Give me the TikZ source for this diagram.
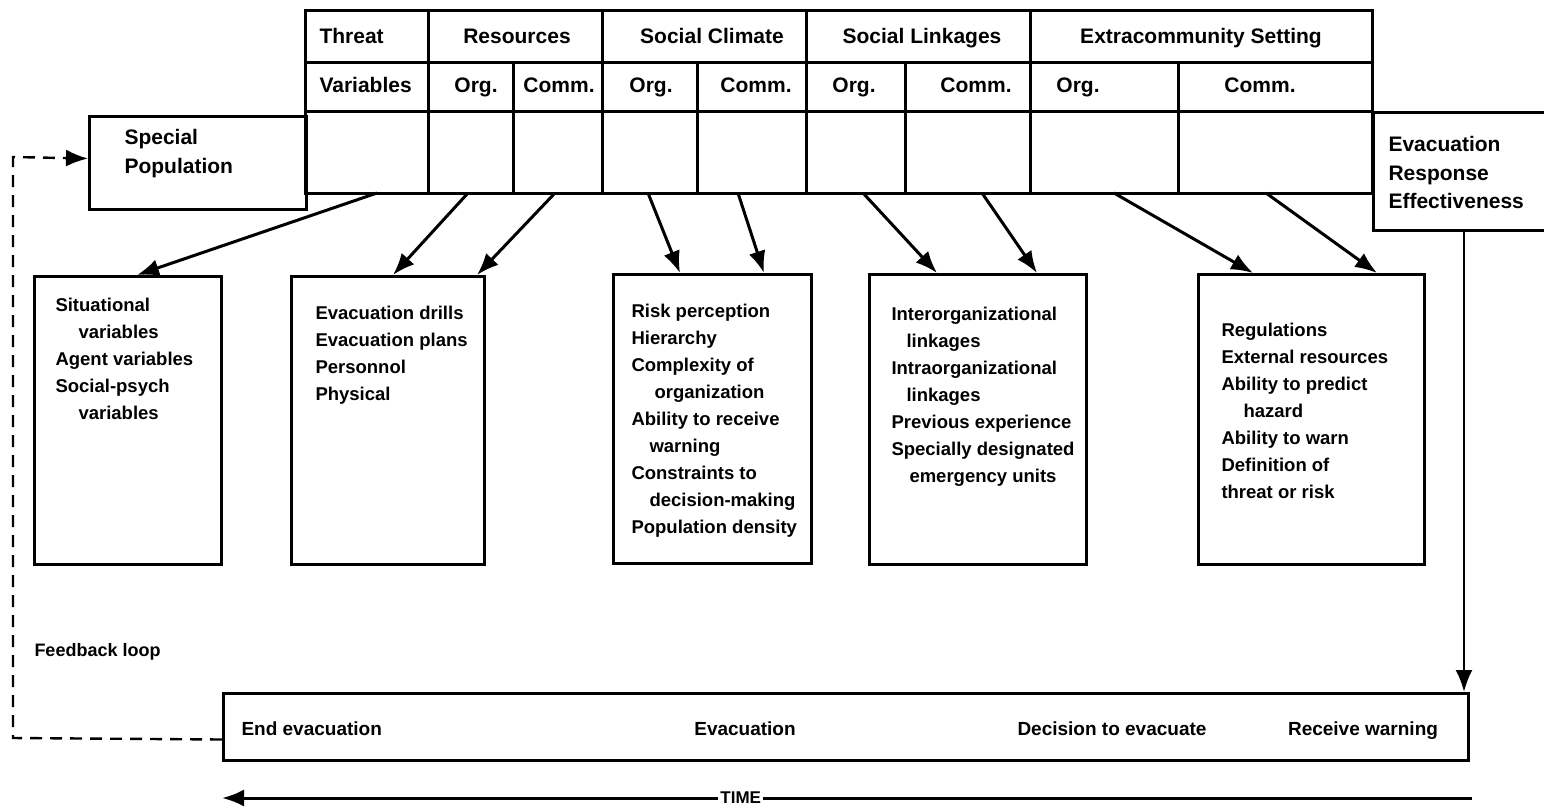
\documentclass[tikz,border=0pt]{standalone}
\usepackage{fontspec}
\setmainfont{Liberation Sans}
\usetikzlibrary{arrows.meta,calc}
\begin{document}
\begin{tikzpicture}[x=1pt,y=-1pt,
  line width=3pt,
  hdr/.style={font=\fontsize{21}{28.5}\selectfont\bfseries, inner sep=0pt},
  body/.style={font=\fontsize{18.5}{26.9}\selectfont\bfseries, inner sep=0pt, align=left, anchor=north west},
  tlab/.style={font=\fontsize{19}{24}\selectfont\bfseries, inner sep=0pt, anchor=base},
  box/.style={draw, line width=3pt, anchor=north west, inner sep=0pt},
  arr/.style={-{Latex[length=22pt,width=17pt]}, line width=3pt},
  fb/.style={-{Latex[length=22pt,width=17pt]}, line width=2.4pt, dash pattern=on 12pt off 8pt},
]
\useasboundingbox (0,0) rectangle (1544,807);

% ---- table ----
\draw (305,10) rectangle (1372,193);
\draw (305,62) -- (1372,62);
\draw (305,111) -- (1372,111);
\foreach \x in {428,602,806,1030} \draw (\x,10) -- (\x,193);
\foreach \x in {513,697,905,1178} \draw (\x,62) -- (\x,193);

\node[hdr, anchor=base west] (hthreat) at (318,43) {Threat};
\node[hdr, anchor=base west] (hvar) at (318,92) {Variables};
\node[hdr, anchor=base] (hres) at (517,43) {Resources};
\node[hdr, anchor=base] (hsc) at (712,43) {Social Climate};
\node[hdr, anchor=base] (hsl) at (922,43) {Social Linkages};
\node[hdr, anchor=base] (hext) at (1201,43) {Extracommunity Setting};
\node[hdr, anchor=base] (o1) at (476,92) {Org.};
\node[hdr, anchor=base] (c1) at (559,92) {Comm.};
\node[hdr, anchor=base] (o2) at (651,92) {Org.};
\node[hdr, anchor=base] (c2) at (756,92) {Comm.};
\node[hdr, anchor=base] (o3) at (854,92) {Org.};
\node[hdr, anchor=base] (c3) at (976,92) {Comm.};
\node[hdr, anchor=base] (o4) at (1078,92) {Org.};
\node[hdr, anchor=base] (c4) at (1260,92) {Comm.};

\coordinate (s1) at (377,193);
\coordinate (s2) at (468,193);
\coordinate (s3) at (555,193);
\coordinate (s4) at (648,193);
\coordinate (s5) at (738,193);
\coordinate (s6) at (863,193);
\coordinate (s7) at (982,193);
\coordinate (s8) at (1114,193);
\coordinate (s9) at (1266,193);

% ---- side boxes ----
\node[box, minimum width=217pt, minimum height=93pt] (sp) at (88,115) {};
\node[hdr, align=left, anchor=north west] (sptxt) at (123,128) {Special\\Population};

\node[box, minimum width=200pt, minimum height=118pt] (ere) at (1372,111) {};
\node[hdr, align=left, anchor=north west] (eretxt) at (1387,135) {Evacuation\\Response\\Effectiveness};

% ---- lower boxes ----
\node[box, minimum width=187pt, minimum height=288pt] (b1) at (33,275) {};
\node[body] (t1) at (54,297) {Situational\\\hspace*{23pt}variables\\Agent variables\\Social-psych\\\hspace*{23pt}variables};

\node[box, minimum width=193pt, minimum height=288pt] (b2) at (290,275) {};
\node[body] (t2) at (314,305) {Evacuation drills\\Evacuation plans\\Personnol\\Physical};

\node[box, minimum width=198pt, minimum height=289pt] (b3) at (612,273) {};
\node[body] (t3) at (630,303) {Risk perception\\Hierarchy\\Complexity of\\\hspace*{23pt}organization\\Ability to receive\\\hspace*{18pt}warning\\Constraints to\\\hspace*{18pt}decision-making\\Population density};

\node[box, minimum width=217pt, minimum height=290pt] (b4) at (868,273) {};
\node[body] (t4) at (890,306) {Interorganizational\\\hspace*{15pt}linkages\\Intraorganizational\\\hspace*{15pt}linkages\\Previous experience\\Specially designated\\\hspace*{18pt}emergency units};

\node[box, minimum width=226pt, minimum height=290pt] (b5) at (1197,273) {};
\node[body] (t5) at (1220,322) {Regulations\\External resources\\Ability to predict\\\hspace*{22pt}hazard\\Ability to warn\\Definition of\\threat or risk};

% ---- arrows from table ----
\draw[arr] (s1) -- ([xshift=104pt]b1.north west);
\draw[arr] (s2) -- ([xshift=103pt]b2.north west);
\draw[arr] (s3) -- ([xshift=187pt]b2.north west);
\draw[arr] (s4) -- ([xshift=68pt]b3.north west);
\draw[arr] (s5) -- ([xshift=152pt]b3.north west);
\draw[arr] (s6) -- ([xshift=69pt]b4.north west);
\draw[arr] (s7) -- ([xshift=169pt]b4.north west);
\draw[arr] (s8) -- ([xshift=56pt]b5.north west);
\draw[arr] (s9) -- ([xshift=180pt]b5.north west);

% ---- timeline box ----
\node[box, minimum width=1245pt, minimum height=67pt] (tl) at (222,692) {};
\node[tlab, anchor=base west] (te1) at (240,735) {End evacuation};
\node[tlab] (te2) at (745,735) {Evacuation};
\node[tlab] (te3) at (1112,735) {Decision to evacuate};
\node[tlab] (te4) at (1363,735) {Receive warning};

\coordinate (ereb) at (1464,229);
\coordinate (tlin) at (1464,692);
\draw[arr, line width=2.6pt] (ereb) -- (tlin);

% ---- feedback loop ----
\coordinate (fb1) at (13,738);
\coordinate (fb2) at (13,157);
\draw[fb] ([yshift=-12.5pt]tl.west) -- (fb1) -- (fb2) -- ([yshift=4.5pt]sp.west);
\node[font=\fontsize{18}{20}\selectfont\bfseries, inner sep=0pt, anchor=west] (fbl) at (33,652) {Feedback loop};

% ---- time arrow ----
\coordinate (timeR) at (1472,798);
\coordinate (timeL) at (222,798);
\draw[arr] (timeR) -- node[pos=0.585, fill=white, inner xsep=2pt, inner ysep=1pt, font=\fontsize{17}{18}\selectfont\bfseries] (timelab) {TIME} (timeL);
\end{tikzpicture}
\end{document}
